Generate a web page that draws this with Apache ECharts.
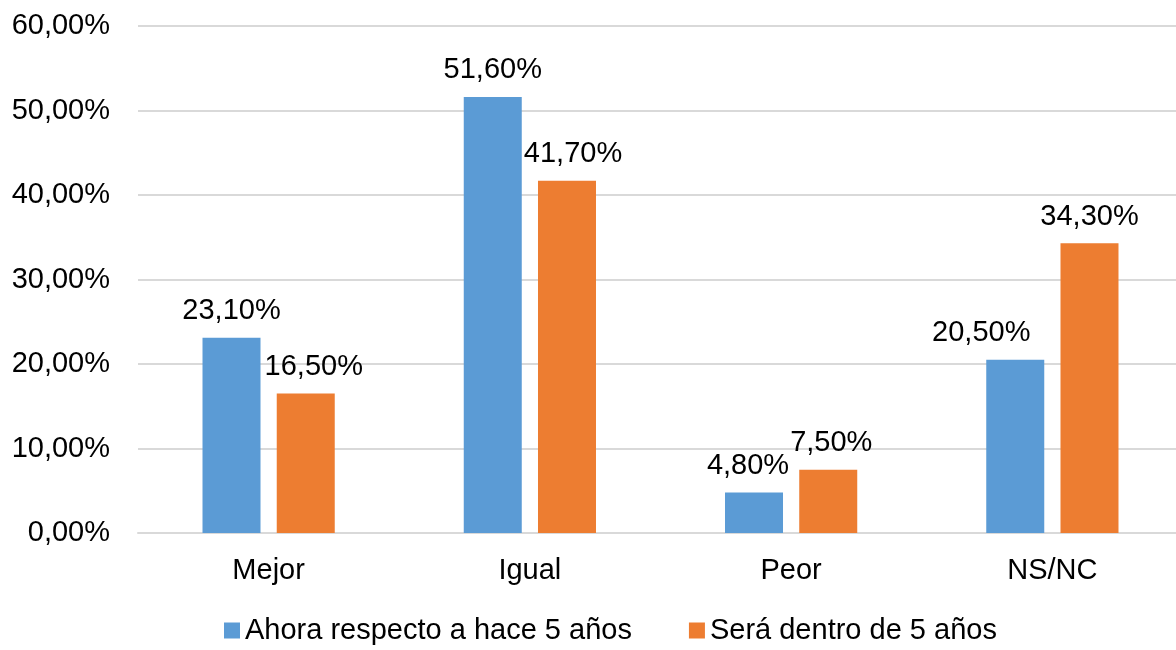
<!DOCTYPE html>
<html>
<head>
<meta charset="utf-8">
<script src="https://cdn.jsdelivr.net/npm/echarts@6/dist/echarts.min.js"></script>
<style>
	html,body{margin:0;padding:0;background:#fff;overflow:hidden;}
	#chart{width:1183px;height:650px;}
</style>
</head>
<body>
<div id="chart"></div>
<script>
	// datos
	var categorias = ["Mejor", "Igual", "Peor", "NS/NC"];
	var ahora = [23.1, 51.6, 4.8, 20.5];
	var sera = [16.5, 41.7, 7.5, 34.3];
	var nombres = ["Ahora respecto a hace 5 años", "Será dentro de 5 años"];
	var ticks_y = [0, 10, 20, 30, 40, 50, 60];

	var fuente = "Liberation Sans, Arial, Helvetica, sans-serif";
	var tam = 29;

	function pct(v){
		return v.toFixed(2).replace(".", ",") + "%";
	}

	// desplazamiento de etiquetas (Excel las aparta para que no se solapen)
	var desplaza_ahora = [[0, 0], [0, 0], [-6, 0], [-34, 0]];
	var desplaza_sera = [[8, 0], [6, 0], [3, 0], [0, 0]];

	// el lienzo es algo mas ancho que la ventana: la rejilla sigue fuera del borde derecho
	var myChart = echarts.init(document.getElementById("chart"));
	var option = {
		animation: false,
		textStyle: {fontFamily: fuente},
		grid: {left: 138, right: 0, top: 26, bottom: 117},
		legend: {
			bottom: 0,
			left: 219,
			itemWidth: 16,
			itemHeight: 16,
			itemGap: 57,
			icon: "rect",
			textStyle: {fontSize: tam, color: "#000", fontFamily: fuente},
			data: nombres
		},
		xAxis: {
			type: "category",
			data: categorias,
			axisTick: {show: false},
			axisLine: {lineStyle: {color: "#d9d9d9", width: 2}},
			axisLabel: {fontSize: tam, color: "#000", margin: 23, fontFamily: fuente}
		},
		yAxis: {
			type: "value",
			min: ticks_y[0],
			max: ticks_y[ticks_y.length - 1],
			interval: 10,
			axisLine: {show: false},
			axisTick: {show: false},
			splitLine: {lineStyle: {color: "#d9d9d9", width: 2}},
			axisLabel: {
				fontSize: tam, color: "#000", margin: 28, fontFamily: fuente,
				formatter: function(v){ return pct(v); }
			}
		},
		series: [
			{
				name: nombres[0],
				type: "bar",
				barWidth: 58,
				barGap: "28%",
				itemStyle: {color: "#5b9bd5"},
				label: {show: true, position: "top", distance: 12, fontSize: tam, color: "#000", fontFamily: fuente,
					formatter: function(p){ return pct(p.value); }},
				data: ahora.map(function(v, i){
					return {value: v, label: {offset: desplaza_ahora[i]}};
				})
			},
			{
				name: nombres[1],
				type: "bar",
				barWidth: 58,
				barGap: "28%",
				itemStyle: {color: "#ed7d31"},
				label: {show: true, position: "top", distance: 12, fontSize: tam, color: "#000", fontFamily: fuente,
					formatter: function(p){ return pct(p.value); }},
				data: sera.map(function(v, i){
					return {value: v, label: {offset: desplaza_sera[i]}};
				})
			}
		]
	};
	myChart.setOption(option);
</script>
</body>
</html>
